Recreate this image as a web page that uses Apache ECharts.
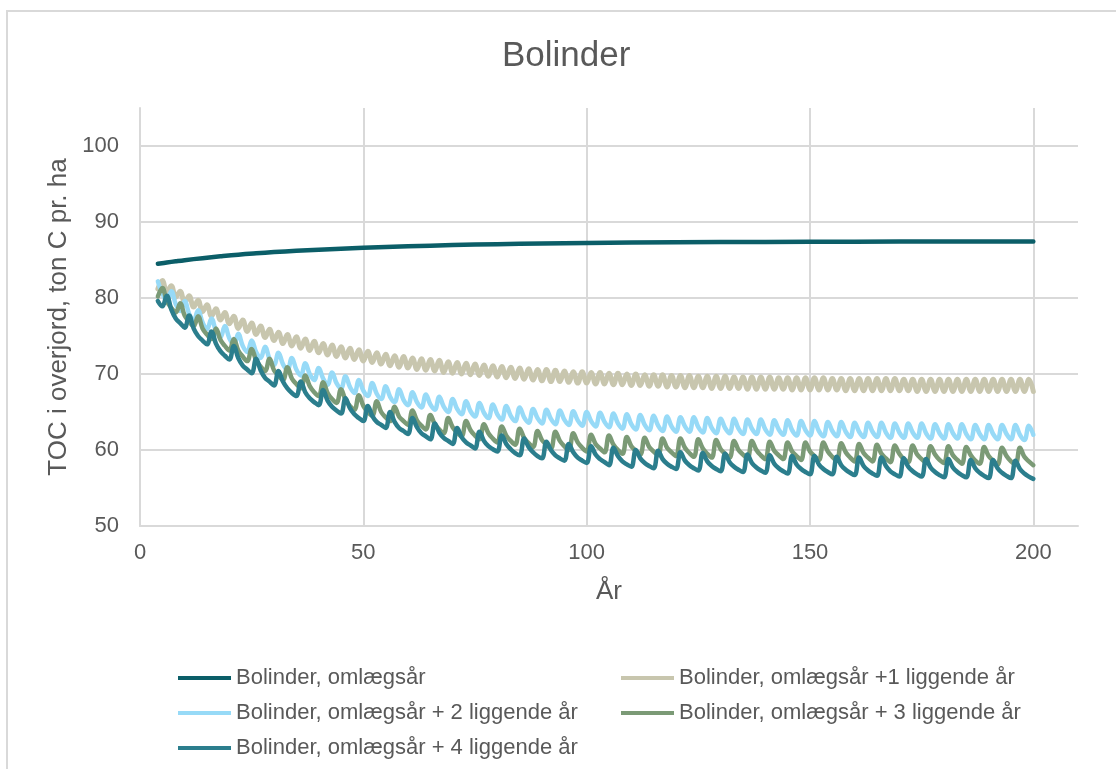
<!DOCTYPE html>
<html>
<head>
<meta charset="utf-8">
<script src="https://cdn.jsdelivr.net/npm/echarts@6/dist/echarts.min.js"></script>
<style>
  html, body { margin: 0; padding: 0; background: #fff; }
  #chart { width: 1116px; height: 769px; }
</style>
</head>
<body>
<div id="chart"></div>
<script>
const seriesNames = [
  'Bolinder, omlægsår',
  'Bolinder, omlægsår +1 liggende år',
  'Bolinder, omlægsår + 2 liggende år',
  'Bolinder, omlægsår + 3 liggende år',
  'Bolinder, omlægsår + 4 liggende år'
]

// omlægsår hvert år - glat kurve
const darkYears = [4, 6, 8, 10, 14, 18, 22, 26, 30, 35, 40, 45, 50, 60, 70, 80, 90, 100, 120, 140, 160, 180, 200]
const darkValues = [84.50, 84.67, 84.83, 84.98, 85.24, 85.48, 85.70, 85.88, 86.04, 86.21, 86.36, 86.49, 86.60,
  86.80, 86.96, 87.08, 87.17, 87.24, 87.33, 87.38, 87.41, 87.43, 87.45]

// år 4-200 for de liggende serier
const years = [
  4, 5, 6, 7, 8, 9, 10,
  11, 12, 13, 14, 15, 16, 17, 18, 19, 20,
  21, 22, 23, 24, 25, 26, 27, 28, 29, 30,
  31, 32, 33, 34, 35, 36, 37, 38, 39, 40,
  41, 42, 43, 44, 45, 46, 47, 48, 49, 50,
  51, 52, 53, 54, 55, 56, 57, 58, 59, 60,
  61, 62, 63, 64, 65, 66, 67, 68, 69, 70,
  71, 72, 73, 74, 75, 76, 77, 78, 79, 80,
  81, 82, 83, 84, 85, 86, 87, 88, 89, 90,
  91, 92, 93, 94, 95, 96, 97, 98, 99, 100,
  101, 102, 103, 104, 105, 106, 107, 108, 109, 110,
  111, 112, 113, 114, 115, 116, 117, 118, 119, 120,
  121, 122, 123, 124, 125, 126, 127, 128, 129, 130,
  131, 132, 133, 134, 135, 136, 137, 138, 139, 140,
  141, 142, 143, 144, 145, 146, 147, 148, 149, 150,
  151, 152, 153, 154, 155, 156, 157, 158, 159, 160,
  161, 162, 163, 164, 165, 166, 167, 168, 169, 170,
  171, 172, 173, 174, 175, 176, 177, 178, 179, 180,
  181, 182, 183, 184, 185, 186, 187, 188, 189, 190,
  191, 192, 193, 194, 195, 196, 197, 198, 199, 200
]

// +1 liggende år (2-årig cyklus)
const plus1Values = [
  81.2, 82.3, 80.8, 81.6, 80.1, 80.9, 79.4,
  80.3, 78.8, 79.7, 78.2, 79.1, 77.6, 78.6, 77.1, 78.1, 76.6,
  77.6, 76.0, 77.1, 75.6, 76.7, 75.2, 76.3, 74.8, 75.9, 74.4,
  75.5, 74.0, 75.2, 73.7, 74.9, 73.4, 74.6, 73.1, 74.3, 72.8,
  74.0, 72.5, 73.8, 72.3, 73.6, 72.1, 73.4, 71.9, 73.2, 71.7,
  73.0, 71.5, 72.8, 71.3, 72.6, 71.1, 72.4, 70.9, 72.3, 70.8,
  72.1, 70.6, 72.0, 70.5, 71.9, 70.4, 71.8, 70.2, 71.6, 70.1,
  71.5, 70.0, 71.4, 69.9, 71.3, 69.8, 71.2, 69.7, 71.1, 69.6,
  71.0, 69.5, 70.9, 69.4, 70.8, 69.3, 70.7, 69.2, 70.6, 69.1,
  70.6, 69.0, 70.5, 69.0, 70.4, 68.9, 70.3, 68.8, 70.3, 68.8,
  70.2, 68.7, 70.2, 68.7, 70.1, 68.6, 70.1, 68.6, 70.0, 68.5,
  70.0, 68.5, 69.9, 68.4, 69.9, 68.4, 69.9, 68.3, 69.8, 68.3,
  69.8, 68.2, 69.8, 68.2, 69.7, 68.2, 69.7, 68.1, 69.7, 68.1,
  69.7, 68.1, 69.6, 68.1, 69.6, 68.0, 69.6, 68.0, 69.6, 68.0,
  69.6, 68.0, 69.5, 68.0, 69.5, 67.9, 69.5, 67.9, 69.5, 67.9,
  69.5, 67.9, 69.5, 67.9, 69.4, 67.9, 69.4, 67.8, 69.4, 67.8,
  69.4, 67.8, 69.4, 67.8, 69.4, 67.8, 69.4, 67.8, 69.4, 67.8,
  69.3, 67.8, 69.3, 67.7, 69.3, 67.7, 69.3, 67.7, 69.3, 67.7,
  69.3, 67.7, 69.3, 67.7, 69.3, 67.7, 69.3, 67.7, 69.3, 67.7,
  69.3, 67.7, 69.3, 67.7, 69.3, 67.7, 69.3, 67.7, 69.3, 67.7
]

// +2 liggende år (3-årig cyklus)
const plus2Values = [
  82.2, 80.6, 79.7, 80.9, 79.2, 78.3, 79.6,
  77.9, 77.0, 78.4, 76.8, 75.9, 77.3, 75.7, 74.8, 76.3, 74.7,
  73.8, 75.3, 73.7, 72.9, 74.4, 72.9, 72.1, 73.6, 72.0, 71.2,
  72.8, 71.3, 70.5, 72.1, 70.6, 69.8, 71.4, 70.0, 69.2, 70.8,
  69.4, 68.6, 70.2, 68.8, 68.1, 69.7, 68.3, 67.5, 69.2, 67.8,
  67.1, 68.8, 67.4, 66.7, 68.4, 67.0, 66.3, 68.0, 66.6, 65.9,
  67.6, 66.3, 65.6, 67.3, 66.0, 65.3, 67.0, 65.7, 65.0, 66.7,
  65.4, 64.7, 66.4, 65.1, 64.4, 66.2, 64.9, 64.2, 66.0, 64.7,
  64.0, 65.8, 64.5, 63.8, 65.6, 64.3, 63.6, 65.4, 64.2, 63.5,
  65.3, 64.1, 63.4, 65.2, 64.0, 63.3, 65.1, 63.9, 63.2, 65.0,
  63.8, 63.1, 64.9, 63.7, 63.0, 64.8, 63.5, 62.8, 64.7, 63.4,
  62.7, 64.6, 63.3, 62.6, 64.5, 63.2, 62.5, 64.4, 63.1, 62.4,
  64.3, 63.1, 62.4, 64.3, 63.0, 62.3, 64.2, 62.9, 62.2, 64.1,
  62.9, 62.2, 64.1, 62.8, 62.1, 64.0, 62.8, 62.1, 64.0, 62.7,
  62.0, 63.9, 62.7, 62.0, 63.9, 62.6, 61.9, 63.8, 62.6, 61.9,
  63.8, 62.5, 61.8, 63.7, 62.5, 61.8, 63.7, 62.4, 61.7, 63.6,
  62.4, 61.7, 63.6, 62.4, 61.7, 63.6, 62.3, 61.6, 63.5, 62.3,
  61.6, 63.5, 62.3, 61.6, 63.5, 62.2, 61.5, 63.4, 62.2, 61.5,
  63.4, 62.2, 61.5, 63.4, 62.1, 61.4, 63.3, 62.1, 61.4, 63.3,
  62.1, 61.4, 63.3, 62.1, 61.4, 63.3, 62.0, 61.3, 63.2, 62.0
]

// +3 liggende år (4-årig cyklus)
const plus3Values = [
  80.2, 81.3, 79.6, 78.7, 78.1, 79.3, 77.7,
  76.9, 76.3, 77.6, 76.0, 75.2, 74.6, 76.0, 74.5, 73.7, 73.1,
  74.6, 73.1, 72.3, 71.7, 73.3, 71.8, 71.0, 70.4, 72.0, 70.5,
  69.8, 69.2, 70.9, 69.4, 68.7, 68.1, 69.8, 68.4, 67.6, 67.1,
  68.9, 67.5, 66.7, 66.2, 68.0, 66.6, 65.8, 65.3, 67.2, 65.8,
  65.0, 64.5, 66.4, 65.0, 64.3, 63.8, 65.7, 64.4, 63.8, 63.3,
  65.2, 63.9, 63.2, 62.7, 64.6, 63.4, 62.7, 62.2, 64.2, 63.0,
  62.3, 61.8, 63.8, 62.6, 61.9, 61.4, 63.4, 62.2, 61.5, 61.0,
  63.1, 61.9, 61.2, 60.7, 62.8, 61.6, 60.9, 60.4, 62.5, 61.3,
  60.7, 60.2, 62.4, 61.2, 60.5, 60.0, 62.2, 61.0, 60.3, 59.8,
  62.0, 60.8, 60.2, 59.7, 61.9, 60.7, 60.0, 59.5, 61.7, 60.5,
  59.9, 59.4, 61.6, 60.4, 59.8, 59.3, 61.5, 60.3, 59.7, 59.2,
  61.5, 60.3, 59.6, 59.1, 61.4, 60.2, 59.5, 59.0, 61.3, 60.1,
  59.5, 59.0, 61.2, 60.0, 59.4, 58.9, 61.2, 60.0, 59.3, 58.8,
  61.1, 59.9, 59.3, 58.8, 61.0, 59.8, 59.2, 58.7, 61.0, 59.8,
  59.2, 58.7, 61.0, 59.8, 59.1, 58.6, 60.9, 59.7, 59.0, 58.5,
  60.8, 59.6, 59.0, 58.5, 60.7, 59.5, 58.9, 58.4, 60.6, 59.5,
  58.8, 58.4, 60.6, 59.4, 58.8, 58.3, 60.5, 59.4, 58.7, 58.3,
  60.5, 59.3, 58.7, 58.2, 60.4, 59.3, 58.6, 58.2, 60.4, 59.2,
  58.6, 58.1, 60.3, 59.2, 58.5, 58.1, 60.3, 59.1, 58.5, 58.0
]

// +4 liggende år (5-årig cyklus)
const plus4Values = [
  79.6, 78.9, 80.3, 78.5, 77.3, 76.7, 76.1,
  77.7, 76.0, 75.0, 74.4, 73.9, 75.6, 74.0, 73.0, 72.4, 71.9,
  73.7, 72.1, 71.1, 70.6, 70.1, 72.0, 70.5, 69.5, 69.0, 68.5,
  70.4, 69.0, 68.1, 67.5, 67.1, 69.0, 67.6, 66.8, 66.3, 65.9,
  67.9, 66.5, 65.7, 65.2, 64.8, 66.8, 65.5, 64.7, 64.2, 63.8,
  65.8, 64.5, 63.7, 63.3, 62.9, 65.0, 63.7, 62.9, 62.5, 62.1,
  64.2, 63.0, 62.2, 61.8, 61.4, 63.5, 62.3, 61.6, 61.2, 60.8,
  62.9, 61.7, 61.0, 60.6, 60.2, 62.4, 61.2, 60.5, 60.1, 59.8,
  61.9, 60.8, 60.1, 59.6, 59.3, 61.5, 60.4, 59.7, 59.2, 58.9,
  61.1, 60.0, 59.3, 58.9, 58.6, 60.8, 59.7, 59.0, 58.6, 58.3,
  60.5, 59.4, 58.8, 58.4, 58.0, 60.3, 59.2, 58.5, 58.1, 57.8,
  60.0, 58.9, 58.3, 57.9, 57.6, 59.9, 58.8, 58.2, 57.8, 57.5,
  59.7, 58.6, 58.0, 57.6, 57.3, 59.6, 58.5, 57.9, 57.5, 57.2,
  59.5, 58.4, 57.8, 57.4, 57.1, 59.4, 58.3, 57.7, 57.3, 57.0,
  59.3, 58.2, 57.6, 57.2, 56.9, 59.2, 58.1, 57.5, 57.1, 56.8,
  59.2, 58.1, 57.5, 57.1, 56.8, 59.1, 58.0, 57.4, 57.0, 56.7,
  59.0, 57.9, 57.3, 56.9, 56.6, 59.0, 57.9, 57.2, 56.8, 56.5,
  58.9, 57.8, 57.2, 56.8, 56.5, 58.8, 57.7, 57.1, 56.7, 56.4,
  58.8, 57.7, 57.1, 56.7, 56.4, 58.7, 57.6, 57.0, 56.6, 56.3,
  58.7, 57.6, 57.0, 56.6, 56.3, 58.6, 57.5, 56.9, 56.5, 56.2
]

const xTicks = [0, 50, 100, 150, 200]
const yTicks = [50, 60, 70, 80, 90, 100]

const colors = ['#0b5e68', '#c8c6ae', '#97daf7', '#7b9a76', '#2b7e8d']
const textColor = '#595959'
const gridColor = '#d9d9d9'
const font = "'Liberation Sans', Arial, sans-serif"

const pairs = (xs, ys) => xs.map((x, i) => [x, ys[i]])
const valueSets = [null, plus1Values, plus2Values, plus3Values, plus4Values]

const chart = echarts.init(document.getElementById('chart'))

const series = seriesNames.map((name, i) => ({
  name: name,
  type: 'line',
  data: i === 0 ? pairs(darkYears, darkValues) : pairs(years, valueSets[i]),
  showSymbol: false,
  smooth: 0.4,
  lineStyle: { color: colors[i], width: i === 1 ? 5 : 4.5, cap: 'round', join: 'round' },
  itemStyle: { color: colors[i] },
  emphasis: { disabled: true }
}))

const legendBase = {
  orient: 'vertical',
  icon: 'rect',
  itemWidth: 53,
  itemHeight: 4,
  itemGap: 11,
  selectedMode: false,
  textStyle: { color: textColor, fontSize: 22, fontFamily: font, lineHeight: 24 }
}

chart.setOption({
  animation: false,
  color: colors,
  textStyle: { fontFamily: font },
  title: {
    text: 'Bolinder',
    left: 497,
    top: 34,
    textStyle: { color: textColor, fontSize: 35, fontWeight: 'normal', fontFamily: font }
  },
  graphic: [{
    type: 'rect',
    shape: { x: 7, y: 11, width: 1200, height: 900 },
    style: { fill: 'none', stroke: gridColor, lineWidth: 2 },
    silent: true
  }],
  legend: [
    Object.assign({}, legendBase, { left: 173, top: 661, data: [seriesNames[0], seriesNames[2], seriesNames[4]] }),
    Object.assign({}, legendBase, { left: 616, top: 661, data: [seriesNames[1], seriesNames[3]] })
  ],
  grid: { left: 140, right: 38, top: 108, bottom: 243 },
  xAxis: {
    type: 'value',
    min: xTicks[0],
    max: 210,
    interval: xTicks[1] - xTicks[0],
    name: 'År',
    nameLocation: 'middle',
    nameGap: 53,
    nameTextStyle: { color: textColor, fontSize: 26, fontFamily: font },
    axisLine: { show: true, lineStyle: { color: gridColor, width: 2 } },
    axisTick: { show: false },
    axisLabel: { color: textColor, fontSize: 22, fontFamily: font, margin: 16, showMaxLabel: false },
    splitLine: { show: true, showMaxLine: false, lineStyle: { color: gridColor, width: 2 } }
  },
  yAxis: {
    type: 'value',
    min: yTicks[0],
    max: 105,
    interval: yTicks[1] - yTicks[0],
    name: 'TOC i overjord, ton C pr. ha',
    nameLocation: 'middle',
    nameGap: 66,
    nameTextStyle: { color: textColor, fontSize: 26, fontFamily: font },
    axisLine: { show: true, lineStyle: { color: gridColor, width: 2 } },
    axisTick: { show: false },
    axisLabel: { color: textColor, fontSize: 22, fontFamily: font, margin: 21, showMaxLabel: false },
    splitLine: { show: true, showMaxLine: false, lineStyle: { color: gridColor, width: 2 } }
  },
  series: series
})
</script>
</body>
</html>
